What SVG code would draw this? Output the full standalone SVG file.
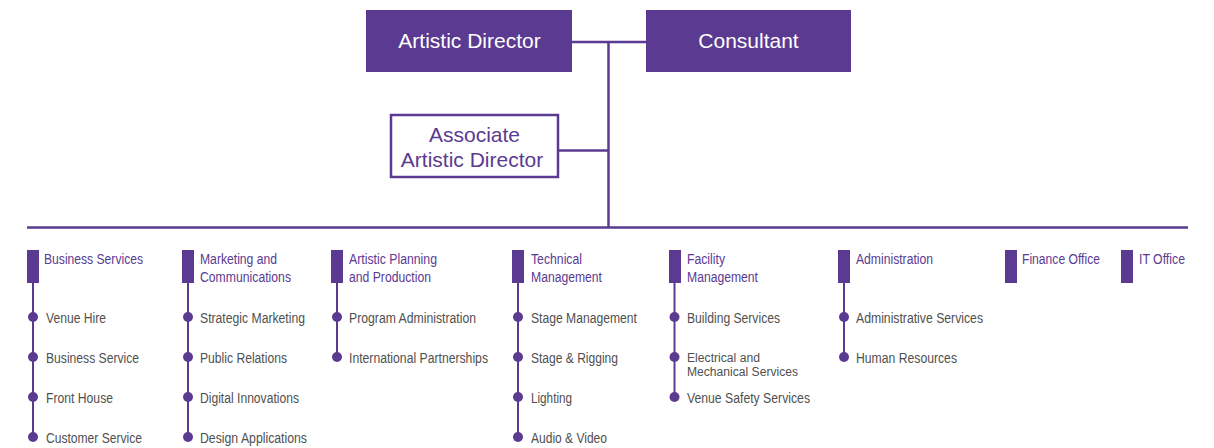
<svg xmlns="http://www.w3.org/2000/svg" width="1214" height="448" viewBox="0 0 1214 448">
  <style>
    .box { fill: #5b3a91; }
    .box-outline { fill: #ffffff; stroke: #5b3a91; stroke-width: 2.5; }
    .title-w { font-family: "Liberation Sans", Arial, sans-serif; font-size: 21px; fill: #ffffff; text-anchor: middle; }
    .title-p { font-family: "Liberation Sans", Arial, sans-serif; font-size: 21px; fill: #5b3a91; text-anchor: middle; }
    .wire { stroke: #5b3a91; stroke-width: 2.5; fill: none; }
    .stem { stroke: #5b3a91; stroke-width: 2; fill: none; }
    .bar { fill: #5b3a91; }
    .dot { fill: #5b3a91; }
    .head { font-family: "Liberation Sans", Arial, sans-serif; font-size: 14px; fill: #5b3a91; }
    .item { font-family: "Liberation Sans", Arial, sans-serif; font-size: 14px; fill: #505050; }
    .item-tight { font-size: 12.5px; }
  </style>

  <!-- connectors between the leadership boxes and the department bus -->
  <g id="connectors">
    <line class="wire" x1="572" y1="42" x2="646" y2="42"/>
    <line class="wire" x1="608.5" y1="42" x2="608.5" y2="228"/>
    <line class="wire" x1="559" y1="150.5" x2="608.5" y2="150.5"/>
    <line class="wire" x1="27" y1="227.5" x2="1188" y2="227.5"/>
  </g>

  <g id="artistic-director">
    <rect class="box" x="366" y="10" width="206" height="62"/>
    <text class="title-w" x="469.5" y="48">Artistic Director</text>
  </g>

  <g id="consultant">
    <rect class="box" x="646" y="10" width="205" height="62"/>
    <text class="title-w" x="748.5" y="48">Consultant</text>
  </g>

  <g id="associate-artistic-director">
    <rect class="box-outline" x="391" y="115" width="167" height="62"/>
    <text class="title-p" x="474.5" y="142">Associate</text>
    <text class="title-p" x="472" y="167">Artistic Director</text>
  </g>

  <g id="business-services">
    <rect class="bar" x="27" y="250" width="12" height="33"/>
    <text class="head" x="44" y="264" textLength="99" lengthAdjust="spacingAndGlyphs">Business Services</text>
    <line class="stem" x1="33" y1="283" x2="33" y2="437"/>
    <circle class="dot" cx="33" cy="317" r="5"/>
    <circle class="dot" cx="33" cy="357" r="5"/>
    <circle class="dot" cx="33" cy="397" r="5"/>
    <circle class="dot" cx="33" cy="437" r="5"/>
    <text class="item" x="46" y="323" textLength="60" lengthAdjust="spacingAndGlyphs">Venue Hire</text>
    <text class="item" x="46" y="363" textLength="93" lengthAdjust="spacingAndGlyphs">Business Service</text>
    <text class="item" x="46" y="403" textLength="67" lengthAdjust="spacingAndGlyphs">Front House</text>
    <text class="item" x="46" y="443" textLength="96" lengthAdjust="spacingAndGlyphs">Customer Service</text>
  </g>

  <g id="marketing-communications">
    <rect class="bar" x="182" y="250" width="12" height="33"/>
    <text class="head" x="200" y="264" textLength="77" lengthAdjust="spacingAndGlyphs">Marketing and</text>
    <text class="head" x="200" y="282" textLength="91" lengthAdjust="spacingAndGlyphs">Communications</text>
    <line class="stem" x1="188" y1="283" x2="188" y2="437"/>
    <circle class="dot" cx="188" cy="317" r="5"/>
    <circle class="dot" cx="188" cy="357" r="5"/>
    <circle class="dot" cx="188" cy="397" r="5"/>
    <circle class="dot" cx="188" cy="437" r="5"/>
    <text class="item" x="200" y="323" textLength="105" lengthAdjust="spacingAndGlyphs">Strategic Marketing</text>
    <text class="item" x="200" y="363" textLength="87" lengthAdjust="spacingAndGlyphs">Public Relations</text>
    <text class="item" x="200" y="403" textLength="99" lengthAdjust="spacingAndGlyphs">Digital Innovations</text>
    <text class="item" x="200" y="443" textLength="107" lengthAdjust="spacingAndGlyphs">Design Applications</text>
  </g>

  <g id="artistic-planning-production">
    <rect class="bar" x="331" y="250" width="12" height="33"/>
    <text class="head" x="349" y="264" textLength="88" lengthAdjust="spacingAndGlyphs">Artistic Planning</text>
    <text class="head" x="349" y="282" textLength="82" lengthAdjust="spacingAndGlyphs">and Production</text>
    <line class="stem" x1="337" y1="283" x2="337" y2="357"/>
    <circle class="dot" cx="337" cy="317" r="5"/>
    <circle class="dot" cx="337" cy="357" r="5"/>
    <text class="item" x="349" y="323" textLength="127" lengthAdjust="spacingAndGlyphs">Program Administration</text>
    <text class="item" x="349" y="363" textLength="139" lengthAdjust="spacingAndGlyphs">International Partnerships</text>
  </g>

  <g id="technical-management">
    <rect class="bar" x="512" y="250" width="12" height="33"/>
    <text class="head" x="531" y="264" textLength="51" lengthAdjust="spacingAndGlyphs">Technical</text>
    <text class="head" x="531" y="282" textLength="71" lengthAdjust="spacingAndGlyphs">Management</text>
    <line class="stem" x1="518" y1="283" x2="518" y2="437"/>
    <circle class="dot" cx="518" cy="317" r="5"/>
    <circle class="dot" cx="518" cy="357" r="5"/>
    <circle class="dot" cx="518" cy="397" r="5"/>
    <circle class="dot" cx="518" cy="437" r="5"/>
    <text class="item" x="531" y="323" textLength="106" lengthAdjust="spacingAndGlyphs">Stage Management</text>
    <text class="item" x="531" y="363" textLength="87" lengthAdjust="spacingAndGlyphs">Stage &amp; Rigging</text>
    <text class="item" x="531" y="403" textLength="41" lengthAdjust="spacingAndGlyphs">Lighting</text>
    <text class="item" x="531" y="443" textLength="76" lengthAdjust="spacingAndGlyphs">Audio &amp; Video</text>
  </g>

  <g id="facility-management">
    <rect class="bar" x="669" y="250" width="12" height="33"/>
    <text class="head" x="687" y="264" textLength="38" lengthAdjust="spacingAndGlyphs">Facility</text>
    <text class="head" x="687" y="282" textLength="71" lengthAdjust="spacingAndGlyphs">Management</text>
    <line class="stem" x1="674.5" y1="283" x2="674.5" y2="397"/>
    <circle class="dot" cx="674.5" cy="317" r="5"/>
    <circle class="dot" cx="674.5" cy="357" r="5"/>
    <circle class="dot" cx="674.5" cy="397" r="5"/>
    <text class="item" x="687" y="323" textLength="93" lengthAdjust="spacingAndGlyphs">Building Services</text>
    <text class="item item-tight" x="687" y="361.5" textLength="73" lengthAdjust="spacingAndGlyphs">Electrical and</text>
    <text class="item item-tight" x="687" y="376" textLength="111" lengthAdjust="spacingAndGlyphs">Mechanical Services</text>
    <text class="item" x="687" y="403" textLength="123" lengthAdjust="spacingAndGlyphs">Venue Safety Services</text>
  </g>

  <g id="administration">
    <rect class="bar" x="838" y="250" width="12" height="33"/>
    <text class="head" x="856" y="264" textLength="77" lengthAdjust="spacingAndGlyphs">Administration</text>
    <line class="stem" x1="844" y1="283" x2="844" y2="357"/>
    <circle class="dot" cx="844" cy="317" r="5"/>
    <circle class="dot" cx="844" cy="357" r="5"/>
    <text class="item" x="856" y="323" textLength="127" lengthAdjust="spacingAndGlyphs">Administrative Services</text>
    <text class="item" x="856" y="363" textLength="101" lengthAdjust="spacingAndGlyphs">Human Resources</text>
  </g>

  <g id="finance-office">
    <rect class="bar" x="1005" y="250" width="12" height="33"/>
    <text class="head" x="1022" y="264" textLength="78" lengthAdjust="spacingAndGlyphs">Finance Office</text>
  </g>

  <g id="it-office">
    <rect class="bar" x="1121" y="250" width="12" height="33"/>
    <text class="head" x="1139" y="264" textLength="46" lengthAdjust="spacingAndGlyphs">IT Office</text>
  </g>
</svg>
